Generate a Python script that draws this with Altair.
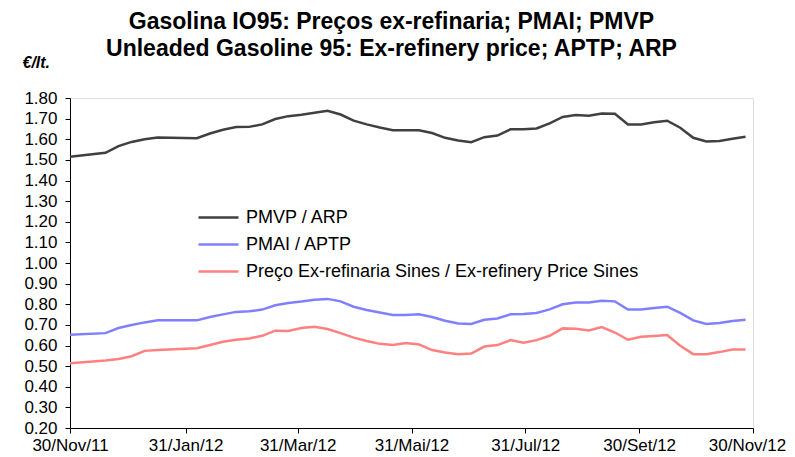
import altair as alt
import pandas as pd

dates = [
    "2011-11-30", "2011-12-19", "2011-12-26", "2012-01-02", "2012-01-09", "2012-01-16",
    "2012-02-06", "2012-02-13", "2012-02-20", "2012-02-27", "2012-03-05", "2012-03-12",
    "2012-03-19", "2012-03-26", "2012-04-02", "2012-04-09", "2012-04-16", "2012-04-23",
    "2012-04-30", "2012-05-07", "2012-05-14", "2012-05-21", "2012-05-28", "2012-06-04",
    "2012-06-11", "2012-06-18", "2012-06-25", "2012-07-02", "2012-07-09", "2012-07-16",
    "2012-07-23", "2012-07-30", "2012-08-06", "2012-08-13", "2012-08-20", "2012-08-27",
    "2012-09-03", "2012-09-10", "2012-09-17", "2012-09-24", "2012-10-01", "2012-10-08",
    "2012-10-15", "2012-10-22", "2012-10-29", "2012-11-05", "2012-11-12", "2012-11-19",
    "2012-11-26",
]

pmvp = [
    1.515, 1.534, 1.567, 1.587, 1.600, 1.609,
    1.605, 1.628, 1.646, 1.659, 1.660, 1.672,
    1.698, 1.712, 1.719, 1.728, 1.738, 1.720,
    1.690, 1.672, 1.657, 1.644, 1.644, 1.644,
    1.630, 1.607, 1.594, 1.586, 1.610, 1.618,
    1.648, 1.649, 1.652, 1.677, 1.708, 1.717,
    1.714, 1.725, 1.724, 1.672, 1.672, 1.682,
    1.690, 1.656, 1.607, 1.589, 1.592, 1.602,
    1.612,
]

pmai = [
    0.652, 0.660, 0.685, 0.699, 0.712, 0.722,
    0.722, 0.738, 0.751, 0.763, 0.766, 0.774,
    0.795, 0.806, 0.813, 0.822, 0.826, 0.814,
    0.788, 0.772, 0.760, 0.748, 0.748, 0.751,
    0.738, 0.720, 0.707, 0.704, 0.725, 0.731,
    0.751, 0.753, 0.758, 0.775, 0.800, 0.808,
    0.808, 0.817, 0.814, 0.774, 0.774, 0.782,
    0.788, 0.758, 0.722, 0.704, 0.709, 0.719,
    0.725,
]

exref = [
    0.514, 0.527, 0.535, 0.548, 0.574, 0.578,
    0.587, 0.602, 0.618, 0.628, 0.634, 0.647,
    0.672, 0.670, 0.685, 0.691, 0.680, 0.660,
    0.638, 0.622, 0.608, 0.602, 0.612, 0.605,
    0.578, 0.566, 0.558, 0.561, 0.595, 0.602,
    0.626, 0.613, 0.626, 0.647, 0.683, 0.681,
    0.673, 0.689, 0.663, 0.628, 0.642, 0.646,
    0.651, 0.599, 0.558, 0.558, 0.568, 0.581,
    0.581,
]

series_names = [
    "PMVP / ARP",
    "PMAI / APTP",
    "Preço Ex-refinaria Sines / Ex-refinery Price Sines",
]
series_colors = ["#404040", "#8080ff", "#ff8080"]

title_lines = [
    "Gasolina IO95: Preços ex-refinaria; PMAI; PMVP",
    "Unleaded Gasoline 95: Ex-refinery price; APTP; ARP",
]

y_ticks = [round(0.2 + 0.1 * i, 2) for i in range(17)]
x_tick_dates = [(2011, 11, 30), (2012, 1, 31), (2012, 3, 31), (2012, 5, 31),
                (2012, 7, 31), (2012, 9, 30), (2012, 11, 30)]

rows = []
for name, vals in zip(series_names, [pmvp, pmai, exref]):
    for d, v in zip(dates, vals):
        rows.append({"date": d, "value": v, "series": name})
df = pd.DataFrame(rows)

FONT = "Liberation Sans"

month_expr = "['Jan','Fev','Mar','Abr','Mai','Jun','Jul','Ago','Set','Out','Nov','Dez'][utcmonth(datum.value)]"
label_expr = f"utcFormat(datum.value, '%d') + '/' + {month_expr} + '/' + utcFormat(datum.value, '%y')"

chart = alt.Chart(df).mark_line(strokeWidth=2.5).encode(
    x=alt.X(
        "date:T",
        scale=alt.Scale(
            type="utc",
            domain=[alt.DateTime(year=2011, month=11, date=30, utc=True),
                    alt.DateTime(year=2012, month=11, date=30, utc=True)],
            nice=False,
        ),
        axis=alt.Axis(
            title=None,
            values=[alt.DateTime(year=y, month=m, date=d, utc=True) for y, m, d in x_tick_dates],
            labelExpr=label_expr,
            labelFlush=False,
            labelOverlap=False,
            labelOffset={
                "condition": {
                    "test": "utcyear(datum.value) == 2012 && utcmonth(datum.value) == 10",
                    "value": -6,
                },
                "value": 0,
            },
            grid=False,
            domainColor="black",
            tickColor="black",
            tickSize=5,
            labelPadding=4,
            labelFont=FONT,
            labelFontSize=17,
            labelColor="black",
        ),
    ),
    y=alt.Y(
        "value:Q",
        scale=alt.Scale(domain=[0.2, 1.8], nice=False, zero=False),
        axis=alt.Axis(
            title="€/lt.",
            titleAngle=0,
            titleAlign="left",
            titleBaseline="middle",
            titleX=-48,
            titleY=-36,
            titleFont=FONT,
            titleFontSize=16,
            titleFontWeight="bold",
            titleFontStyle="italic",
            titleColor="black",
            values=y_ticks,
            format=".2f",
            grid=False,
            domainColor="black",
            tickColor="black",
            tickSize=5,
            labelPadding=8,
            labelFont=FONT,
            labelFontSize=17,
            labelColor="black",
        ),
    ),
    color=alt.Color(
        "series:N",
        scale=alt.Scale(domain=series_names, range=series_colors),
        sort=series_names,
        legend=alt.Legend(
            title=None,
            orient="none",
            legendX=137,
            legendY=108,
            symbolType="M-2,0H2",
            symbolSize=400,
            symbolStrokeWidth=2.5,
            labelFont=FONT,
            labelFontSize=18,
            labelColor="black",
            labelOffset=16,
            rowPadding=6,
            padding=0,
            labelLimit=600,
        ),
    ),
).properties(
    width=683,
    height=330,
    title=alt.TitleParams(
        text=title_lines,
        font=FONT,
        fontSize=23,
        fontWeight="bold",
        color="black",
        anchor="middle",
        frame="group",
        offset=0,
        dy=7,
        lineHeight=27,
        dx=-20,
    ),
    autosize=alt.AutoSizeParams(type="none"),
    padding={"left": 62, "top": 90, "right": 34, "bottom": 25},
).configure_view(stroke=None).configure(background="white")

chart.save("out.html", embed_options={"renderer": "svg", "actions": False})
